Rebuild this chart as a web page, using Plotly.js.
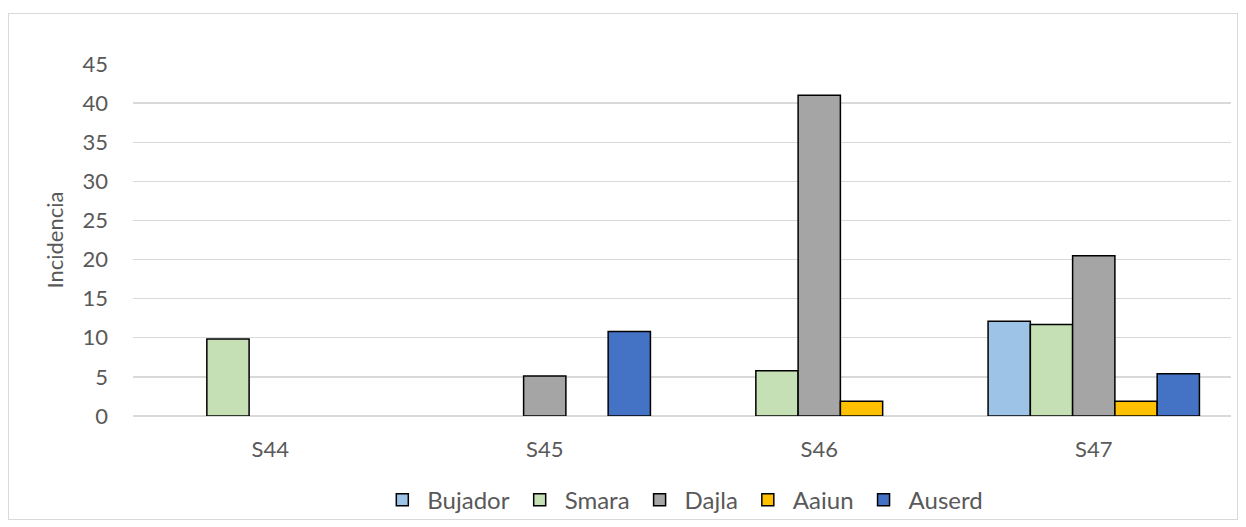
<!DOCTYPE html>
<html>
<head>
<meta charset="utf-8">
<script src="https://cdn.plot.ly/plotly-3.0.1.min.js"></script>
<style>
  body { margin: 0; background: #fff; }
  #wrap { position: relative; width: 1246px; height: 527px; }
  #chart { width: 1246px; height: 527px; }
  #frame { position: absolute; left: 8px; top: 13px; width: 1228px; height: 505px; border: 1px solid #d9d9d9; pointer-events: none; }
</style>
</head>
<body>
<div id="wrap">
  <div id="chart"></div>
  <div id="frame"></div>
</div>
<script>
const categories = ["S44", "S45", "S46", "S47"];
const bujador = [null, null, null, 12.1];
const smara   = [9.85, null, 5.8, 11.7];
const dajla   = [null, 5.1, 41.0, 20.5];
const aaiun   = [null, null, 1.9, 1.9];
const auserd  = [null, 10.8, null, 5.4];
const yTicks = [0, 5, 10, 15, 20, 25, 30, 35, 40, 45];

const seriesNames = ["Bujador", "Smara", "Dajla", "Aaiun", "Auserd"];
const seriesValues = [bujador, smara, dajla, aaiun, auserd];
const seriesColors = ["#9dc3e6", "#c5e0b4", "#a5a5a5", "#ffc000", "#4472c4"];

const traces = seriesNames.map((n, i) => ({
  type: "bar",
  name: n,
  x: categories,
  y: seriesValues[i],
  marker: { color: seriesColors[i], line: { color: "#000000", width: 1.5 } },
  hoverinfo: "x+y+name"
}));

const font = "Lato, Carlito, 'Liberation Sans', sans-serif";
const fs = 22;
const layout = {
  width: 1246, height: 527,
  margin: { l: 133, r: 15, t: 63.6, b: 111.3 },
  paper_bgcolor: "#ffffff",
  plot_bgcolor: "#ffffff",
  barmode: "group",
  bargap: 0.23,
  bargroupgap: 0,
  font: { family: font, color: "#595959", size: fs },
  xaxis: {
    type: "category",
    showgrid: false,
    showline: false,
    ticks: "",
    tickfont: { size: fs, color: "#595959" },
    ticklabelstandoff: 18,
    automargin: false
  },
  yaxis: {
    range: [0, 45],
    tickvals: yTicks,
    showgrid: true,
    gridcolor: "#d9d9d9",
    gridwidth: 1.3,
    zeroline: true,
    zerolinecolor: "#d9d9d9",
    zerolinewidth: 1.3,
    showline: false,
    ticks: "",
    tickfont: { size: fs, color: "#595959" },
    ticklabelstandoff: 24,
    automargin: false,
    title: { text: "Incidencia", font: { size: fs, color: "#595959" }, standoff: 12 }
  },
  showlegend: true,
  legend: {
    orientation: "h",
    xref: "container", yref: "container",
    x: 0.548, xanchor: "center",
    y: 0.051, yanchor: "middle",
    itemwidth: 40,
    font: { size: 24, color: "#595959" },
    traceorder: "normal"
  }
};

Plotly.newPlot("chart", traces, layout, { displayModeBar: false, staticPlot: true });
</script>
</body>
</html>
